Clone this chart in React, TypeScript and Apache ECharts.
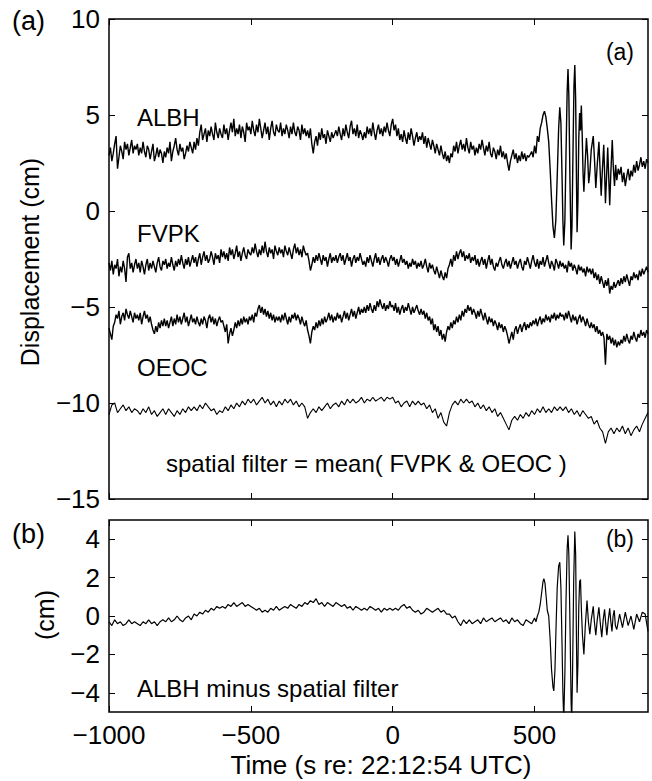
import React, { useEffect, useRef } from "react";
import * as echarts from "echarts";

const T0 = -1000;
const FINE = 5; // s, sampling of the three station records
const COARSE = 10; // s, sampling of the filter and residual
const X_MIN = -1000;
const X_MAX = 900;
const xTicks = [-1000, -500, 0, 500];
const yTicksA = [-15, -10, -5, 0, 5, 10];
const yTicksB = [-4, -2, 0, 2, 4];

// ALBH, 5 s samples from -1000 to 480 s
const albhPre = [
  2.9, 3.3, 2.6, 3.0, 3.5, 3.9, 2.2, 2.8, 3.4, 3.1, 2.7, 3.6, 3.2, 3.5, 2.9, 3.3, 3.7, 3.0, 3.4, 3.2,
  3.5, 2.9, 3.3, 3.0, 3.6, 3.1, 2.8, 3.4, 3.2, 2.7, 3.1, 3.5, 2.6, 2.9, 3.3, 2.8, 3.2, 3.0, 2.5, 3.1,
  2.8, 3.3, 3.0, 3.6, 2.6, 3.1, 3.4, 3.8, 3.2, 2.9, 3.5, 3.1, 3.3, 2.7, 3.0, 3.4, 3.1, 3.6, 3.3, 3.0,
  3.6, 3.2, 3.8, 3.4, 4.1, 4.5, 3.7, 4.0, 4.3, 3.6, 4.2, 3.9, 4.4, 4.0, 3.7, 4.6, 4.1, 3.8, 4.3, 4.0,
  3.8, 4.5, 4.0, 4.3, 3.7, 4.2, 4.6, 4.1, 4.8, 3.9, 4.3, 4.0, 4.5, 3.8, 4.4, 4.1, 3.6, 4.6, 4.2, 4.4,
  4.0, 4.7, 4.2, 3.9, 4.5, 4.1, 4.8, 4.3, 3.8, 4.2, 4.6, 4.0, 4.4, 3.7, 4.3, 4.7, 4.1, 3.9, 4.5, 4.2,
  4.1, 4.6, 3.9, 4.3, 4.0, 4.5, 4.2, 3.8, 4.4, 4.0, 4.6, 4.1, 3.9, 4.4, 4.2, 3.7, 4.5, 4.0, 4.3, 3.9,
  4.2, 3.8, 4.3, 3.5, 3.0, 3.6, 3.9, 3.4, 4.1, 3.7, 4.3, 3.8, 4.0, 3.5, 4.2, 3.9, 3.6, 4.1, 3.8, 4.0,
  4.2, 3.9, 4.4, 4.0, 3.7, 4.3, 3.9, 4.5, 4.1, 3.8, 4.4, 4.7, 4.0, 4.3, 3.9, 4.5, 3.8, 4.2, 4.0, 3.7,
  4.1, 3.8, 4.4, 4.0, 4.3, 3.9, 4.6, 4.1, 3.7, 4.2, 4.5, 4.0, 4.3, 3.9, 4.4, 4.1, 4.6, 4.2, 3.9, 4.5,
  4.8, 4.2, 4.5, 3.9, 4.3, 3.7, 4.0, 3.6, 4.2, 3.8, 3.5, 4.1, 3.7, 4.3, 3.9, 3.4, 3.8, 4.1, 3.6, 3.9,
  3.7, 4.1, 3.5, 3.9, 3.3, 3.8, 3.5, 3.2, 3.7, 3.4, 3.0, 3.5, 3.2, 2.9, 3.4, 3.0, 2.7, 3.1, 2.6, 2.9,
  2.5, 3.0, 2.8, 3.4, 3.1, 3.6, 3.0, 3.4, 3.7, 3.2, 3.5, 3.1, 3.8, 3.3, 3.0, 3.6, 3.2, 3.4, 2.9, 3.3,
  3.0, 3.5, 3.2, 3.7, 3.3, 2.9, 3.4, 3.1, 3.6, 3.0, 2.8, 3.3, 3.1, 2.7, 3.2, 2.9, 3.4, 2.8, 3.1, 2.7,
  3.0, 2.5, 2.1, 2.6, 2.9, 3.2, 2.7, 3.0, 2.5, 2.9, 2.6, 3.1, 2.7, 3.0, 2.6, 2.9, 2.8,
];
// ALBH surface-wave segment [time s, cm]
const albhWave: [number, number][] = [
  [490, 3.1], [495, 2.8], [500, 3.4], [505, 3.0], [510, 3.9], [515, 3.6], [520, 4.3], [525, 4.6],
  [530, 5.0], [535, 5.2], [540, 4.9], [545, 4.3], [550, 3.6], [555, 2.2], [560, 0.6],
  [565, -0.8], [570, -1.4], [575, -0.5], [580, 1.8], [585, 4.3], [589, 5.4], [593, 4.6],
  [597, 1.8], [600, -0.5], [603, -1.8], [607, -0.5], [611, 3.0], [615, 6.2], [618, 7.4],
  [621, 6.0], [625, 1.5], [629, -2.0], [632, -0.8], [636, 3.5], [639, 6.5], [642, 7.6],
  [645, 5.8], [648, 1.5], [650, -1.1], [653, 0.5], [656, 3.8], [659, 5.1], [662, 4.2],
  [665, 5.5], [668, 4.0], [671, 2.0], [674, 1.0], [678, 2.3], [683, 3.8], [687, 2.9],
  [691, 1.45], [695, 2.0], [700, 3.2], [707, 3.9], [711, 2.8], [716, 1.2], [721, 2.4],
  [727, 3.6], [731, 2.2], [735, 0.8], [739, 2.1], [744, 3.45], [747, 2.0], [750, 0.4],
  [754, 1.8], [758, 3.3], [761, 2.0], [765, 0.3], [769, 2.0], [774, 3.7], [778, 2.2],
  [782, 1.3], [786, 2.4], [790, 1.6], [795, 2.2],
];
// ALBH, 5 s samples from 800 to 900 s
const albhPost = [
  1.9, 2.3, 1.5, 2.0, 1.3, 1.8, 2.2, 1.6, 2.1, 1.8, 2.4, 2.0, 2.6, 2.1, 2.4, 2.8, 2.3, 2.6, 2.2, 2.7, 2.5,
];

// FVPK, 5 s samples from -1000 to 900 s
const fvpk = [
  -2.7, -3.1, -2.6, -3.3, -2.8, -3.0, -2.5, -3.4, -2.9, -3.2, -2.6, -3.0, -3.7, -2.4, -2.2, -3.0, -2.7, -3.2, -2.8, -2.5,
  -3.0, -2.7, -3.2, -2.6, -2.9, -3.3, -2.8, -2.5, -3.1, -2.7, -3.0, -2.6, -2.9, -3.2, -2.7, -2.4, -2.9, -3.1, -2.6, -2.8,
  -2.5, -3.0, -2.7, -2.9, -2.4, -2.8, -3.1, -2.6, -2.9, -2.5, -2.8, -2.3, -2.7, -3.0, -2.5, -2.8, -2.4, -2.9, -2.6, -2.3,
  -2.7, -2.4, -2.9, -2.5, -2.2, -2.8, -2.4, -2.1, -2.6, -2.3, -2.7, -2.5, -2.1, -2.4, -2.8, -2.2, -2.5, -2.3, -2.7, -2.0,
  -2.4, -2.1, -2.5, -2.2, -2.6, -1.9, -2.3, -2.0, -2.5, -2.2, -1.8, -2.4, -2.1, -2.6, -2.2, -1.9, -2.3, -2.5, -2.0, -2.2,
  -2.3, -1.9, -2.2, -1.7, -2.1, -2.4, -2.0, -2.3, -1.8, -2.2, -1.6, -2.1, -2.4, -1.9, -2.2, -2.0, -2.5, -1.8, -2.1, -2.3,
  -1.9, -2.2, -2.0, -2.4, -1.8, -2.1, -2.3, -1.9, -2.2, -2.5, -2.0, -1.7, -2.2, -1.9, -2.3, -2.0, -2.4, -1.8, -2.1, -2.3,
  -2.2, -2.6, -3.1, -2.8, -2.4, -2.7, -2.3, -2.6, -2.2, -2.5, -2.8, -2.3, -2.6, -2.4, -2.9, -2.5, -2.2, -2.7, -2.4, -2.6,
  -2.3, -2.7, -2.4, -2.2, -2.6, -2.3, -2.8, -2.5, -2.2, -2.6, -2.4, -2.9, -2.5, -2.3, -2.7, -2.4, -2.6, -2.2, -2.5, -2.8,
  -2.6, -2.9, -2.4, -2.7, -2.3, -2.6, -2.9, -2.5, -2.2, -2.7, -2.4, -2.8, -2.5, -2.3, -2.7, -2.4, -2.6, -2.9, -2.5, -2.3,
  -2.6, -2.4, -2.8, -2.5, -2.9, -2.6, -2.3, -2.7, -2.5, -2.8, -2.6, -3.0, -2.7, -2.9, -2.5, -2.8, -2.6, -3.0, -2.7, -2.9,
  -2.6, -3.0, -2.8, -2.5, -2.9, -3.2, -2.7, -3.0, -2.8, -3.1, -3.3, -2.9, -3.2, -3.5, -3.1, -3.4, -3.6, -3.2, -3.5, -3.0,
  -2.8, -2.5, -2.9, -2.3, -2.6, -2.1, -2.5, -2.2, -2.0, -2.4, -2.1, -2.6, -2.3, -2.5, -2.2, -2.7, -2.4, -2.6, -2.3, -2.8,
  -2.5, -2.9, -2.6, -2.4, -2.8, -2.5, -3.0, -2.6, -2.3, -2.8, -2.5, -2.9, -3.1, -2.7, -2.9, -2.6, -2.4, -2.8, -3.0, -2.7,
  -2.5, -2.9, -2.6, -3.0, -2.7, -2.4, -2.8, -2.6, -3.0, -2.7, -2.5, -2.9, -3.1, -2.6, -2.8, -2.4, -2.7, -3.0, -2.6, -2.3,
  -2.7, -2.9, -2.5, -3.0, -2.6, -2.8, -2.4, -2.9, -2.6, -2.3, -2.7, -3.0, -2.6, -2.8, -3.1, -2.5, -2.7, -3.0, -2.6, -2.9,
  -2.7, -3.0, -2.8, -3.2, -2.6, -2.9, -2.7, -3.1, -2.8, -3.0, -3.3, -2.8, -3.1, -2.9, -3.2, -3.0, -3.4, -2.9, -3.2, -3.0,
  -3.3, -3.0, -3.5, -3.2, -3.6, -3.3, -3.8, -3.4, -3.7, -4.0, -3.6, -3.9, -3.5, -4.3, -3.9, -4.1, -3.7, -4.0, -3.8, -3.6,
  -3.9, -3.5, -3.8, -3.4, -3.7, -3.3, -3.6, -3.9, -3.4, -3.6, -3.2, -3.5, -3.3, -3.6, -3.1, -3.4, -3.0, -3.3, -3.1, -2.9,
  -3.2,
];

// OEOC, 5 s samples from -1000 to 900 s
const oeoc = [
  -6.1, -6.4, -6.7, -6.0, -5.8, -5.4, -5.6, -5.2, -5.9, -5.5, -5.3, -5.7, -5.1, -5.4, -5.6, -5.2, -5.5, -5.8, -5.3, -5.6,
  -5.4, -5.7, -5.3, -5.9, -5.5, -5.2, -5.6, -5.4, -5.8, -5.5, -5.9, -6.2, -6.4, -6.0, -6.3, -5.8, -6.1, -5.7, -6.0, -5.6,
  -6.0, -5.7, -6.1, -5.8, -5.5, -6.0, -5.6, -5.9, -5.4, -5.8, -5.5, -5.9, -5.6, -5.3, -5.8, -5.5, -6.0, -5.7, -5.4, -5.8,
  -5.6, -5.9, -5.5, -5.8, -6.0, -5.6, -5.9, -5.5, -5.7, -6.1, -5.6, -5.4, -5.8, -5.5, -5.9, -5.6, -6.0, -5.7, -5.5, -5.8,
  -5.7, -6.0, -6.3, -5.9, -6.9, -6.4, -6.1, -6.5, -6.2, -5.8, -6.1, -5.7, -6.0, -5.6, -5.9, -5.5, -5.8, -5.6, -5.9, -5.5,
  -5.7, -5.4, -5.8, -5.3, -5.5, -5.1, -4.9, -5.3, -5.0, -5.4, -5.1, -5.5, -5.2, -5.6, -5.3, -5.7, -5.4, -5.8, -5.5, -5.7,
  -5.5, -5.8, -5.4, -5.7, -5.3, -5.6, -5.9, -5.5, -5.8, -5.4, -5.6, -5.3, -5.7, -5.4, -5.6, -5.9, -5.5, -5.8, -6.0, -5.7,
  -6.2, -6.5, -6.9, -6.3, -6.0, -6.2, -5.8, -6.1, -5.7, -6.0, -5.6, -5.9, -5.5, -5.8, -5.6, -5.3, -5.7, -5.4, -5.8, -5.5,
  -5.7, -5.3, -5.6, -5.4, -5.8, -5.5, -5.2, -5.6, -5.3, -5.7, -5.4, -5.1, -5.5, -5.2, -5.6, -5.3, -5.0, -5.4, -5.1, -5.3,
  -5.0, -5.3, -4.9, -5.2, -4.8, -5.1, -5.3, -4.9, -5.2, -4.7, -5.0, -4.6, -4.9, -5.1, -4.8, -5.2, -4.9, -5.1, -4.7, -5.0,
  -4.9, -5.2, -4.8, -5.3, -5.0, -5.4, -5.1, -4.9, -5.3, -5.0, -5.2, -4.8, -5.1, -5.4, -5.0, -5.3, -5.1, -4.9, -5.2, -5.4,
  -5.1, -5.4, -5.2, -5.6, -5.3, -5.7, -5.5, -5.9, -5.6, -6.2, -5.9, -6.3, -6.0, -6.5, -6.2, -6.7, -6.4, -6.8, -6.3, -6.0,
  -6.2, -5.8, -6.1, -5.7, -5.9, -5.5, -5.8, -5.4, -5.7, -5.2, -5.5, -5.1, -5.3, -4.9, -5.2, -5.0, -5.4, -5.1, -5.3, -5.6,
  -5.2, -5.5, -5.1, -5.4, -5.7, -5.3, -5.6, -5.9, -5.5, -5.8, -5.6, -6.0, -5.7, -5.9, -6.2, -5.8, -6.1, -5.9, -6.3, -6.0,
  -6.2, -6.5, -6.9, -6.6, -6.3, -6.7, -6.2, -6.0, -6.4, -6.1, -5.9, -6.3, -6.0, -5.8, -6.2, -5.9, -6.1, -5.8, -6.0, -5.7,
  -5.9, -5.6, -6.0, -5.7, -5.5, -5.9, -5.6, -5.8, -5.4, -5.7, -5.5, -5.8, -5.4, -5.6, -5.3, -5.7, -5.4, -5.6, -5.3, -5.5,
  -5.4, -5.7, -5.3, -5.6, -5.2, -5.5, -5.8, -5.4, -5.7, -5.5, -5.9, -5.6, -5.4, -5.8, -5.5, -5.7, -6.0, -5.6, -5.9, -6.1,
  -5.8, -6.1, -5.9, -6.3, -6.0, -6.4, -6.2, -6.5, -6.3, -6.6, -8.0, -6.4, -6.7, -6.5, -6.9, -6.6, -7.0, -6.7, -7.1, -6.8,
  -7.0, -6.7, -6.9, -6.5, -6.8, -6.4, -6.7, -6.9, -6.5, -6.7, -6.3, -6.6, -6.8, -6.4, -6.6, -6.2, -6.5, -6.3, -6.6, -6.2,
  -6.4,
];

// spatial filter (offset), 10 s samples from -1000 to 900 s
const spatialFilter = [
  -10.6, -10.1, -10.0, -10.5, -10.3, -10.1, -10.4, -10.2, -10.5, -10.3,
  -10.4, -10.6, -10.3, -10.5, -10.2, -10.6, -10.4, -10.7, -10.5, -10.3,
  -10.6, -10.3, -10.5, -10.7, -10.4, -10.6, -10.3, -10.5, -10.2, -10.4,
  -10.2, -10.4, -10.1, -10.3, -10.0, -10.2, -10.4, -10.3, -10.6, -10.4,
  -10.5, -10.2, -10.4, -10.1, -10.3, -10.0, -10.2, -9.9, -10.1, -9.8,
  -10.0, -9.8, -10.1, -9.9, -9.7, -10.0, -9.8, -10.1, -9.9, -10.2,
  -9.9, -10.1, -9.8, -10.0, -9.8, -10.1, -9.9, -10.2, -10.0, -10.2,
  -10.8, -10.5, -10.3, -10.5, -10.2, -10.4, -10.2, -10.0, -10.3, -10.1,
  -10.0, -10.2, -9.9, -10.1, -9.8, -10.0, -9.8, -10.0, -9.9, -9.7,
  -10.0, -9.8, -9.9, -9.7, -9.9, -9.8, -9.7, -9.9, -9.7, -9.8,
  -9.7, -10.0, -9.9, -10.2, -10.0, -9.9, -10.2, -9.9, -10.1, -9.9,
  -10.1, -10.0, -10.3, -10.1, -10.5, -10.3, -10.8, -10.5, -11.0, -11.2,
  -10.5, -10.1, -9.9, -10.1, -9.8, -10.0, -9.8, -10.0, -9.9, -10.2,
  -10.0, -10.3, -10.1, -10.4, -10.2, -10.5, -10.3, -10.7, -10.5, -10.8,
  -11.1, -11.4, -10.9, -10.7, -10.9, -10.6, -10.8, -10.5, -10.7, -10.4,
  -10.6, -10.3, -10.5, -10.2, -10.5, -10.3, -10.5, -10.2, -10.4, -10.2,
  -10.4, -10.2, -10.5, -10.3, -10.6, -10.4, -10.7, -10.4, -10.6, -10.8,
  -10.7, -11.1, -10.9, -11.3, -11.5, -12.1, -11.5, -11.3, -11.6, -11.3,
  -11.5, -11.2, -11.6, -11.3, -11.7, -11.4, -11.2, -11.5, -11.1, -10.8, -10.5,
];

// ALBH minus spatial filter, 10 s samples from -1000 to 480 s
const residPre = [
  -0.3, -0.5, -0.2, -0.4, -0.3, -0.5, -0.4, -0.2, -0.4, -0.3,
  -0.4, -0.5, -0.3, -0.4, -0.2, -0.4, -0.3, -0.5, -0.3, -0.2,
  -0.3, -0.1, -0.3, -0.2, 0.0, -0.2, -0.3, -0.1, 0.0, -0.2,
  0.1, 0.0, 0.2, 0.1, 0.3, 0.2, 0.4, 0.3, 0.5, 0.4,
  0.5, 0.4, 0.6, 0.5, 0.7, 0.5, 0.6, 0.7, 0.5, 0.6,
  0.5, 0.4, 0.3, 0.4, 0.2, 0.3, 0.2, 0.4, 0.3, 0.5,
  0.3, 0.4, 0.5, 0.4, 0.6, 0.5, 0.4, 0.6, 0.5, 0.7,
  0.6, 0.8, 0.7, 0.9, 0.6, 0.7, 0.5, 0.7, 0.6, 0.5,
  0.7, 0.6, 0.5, 0.6, 0.4, 0.5, 0.3, 0.5, 0.4, 0.3,
  0.4, 0.3, 0.5, 0.4, 0.3, 0.4, 0.2, 0.4, 0.3, 0.4,
  0.3, 0.4, 0.3, 0.5, 0.6, 0.4, 0.5, 0.3, 0.2, 0.3,
  0.1, 0.2, 0.4, 0.3, 0.2, 0.3, 0.4, 0.2, 0.3, 0.1,
  0.1, -0.1, 0.0, -0.3, -0.5, -0.2, -0.4, -0.2, -0.4, -0.3,
  -0.2, -0.4, -0.1, -0.3, -0.2, -0.1, -0.3, -0.2, -0.1, -0.3,
  -0.2, -0.4, -0.1, -0.3, -0.2, -0.4, -0.5, -0.2, -0.3,
];
const residWave: [number, number][] = [
  [490, -0.4], [500, -0.1], [505, -0.3], [510, 0.0], [515, 0.2], [520, 0.6], [525, 1.2],
  [530, 1.8], [533, 1.95], [537, 1.7], [541, 1.0], [545, 0.3], [550, 0.0], [555, -1.2],
  [560, -2.8], [565, -3.7], [568, -3.9], [572, -2.8], [576, -0.5], [580, 1.5], [585, 2.6],
  [589, 2.8], [593, 1.5], [597, -1.5], [600, -4.0], [603, -5.4], [607, -3.0], [611, 0.8],
  [615, 3.5], [618, 4.2], [621, 3.2], [625, -0.5], [629, -4.5], [631, -5.5], [634, -3.0],
  [638, 1.8], [642, 4.4], [645, 3.2], [648, -1.5], [650, -4.0], [653, -2.5], [656, 0.5],
  [659, 1.8], [662, 1.9], [665, 0.4], [669, -1.0], [674, -2.0], [679, -0.5], [685, 0.8],
  [690, -0.3], [695, -0.95], [700, -0.2], [707, 0.5], [711, -0.3], [716, -1.0], [721, -0.2],
  [727, 0.45], [732, -0.4], [737, -1.1], [742, -0.2], [747, 0.35], [751, -0.4], [755, -1.0],
  [760, -0.2], [765, 0.4], [769, -0.3], [773, -0.8], [777, 0.0], [781, 0.3], [785, -0.5],
  [790, -0.7],
];
const residPost = [0.1, -0.6, 0.2, -0.5, 0.0, -0.7, 0.1, -0.3, 0.2, 0.1, -0.8];

const FONT = '"Liberation Sans", Arial, Helvetica, sans-serif';
const minus = (v: number) => String(v).replace("-", "\u2212");

const seq = (start: number, step: number, vals: number[]) =>
  vals.map((v, i) => [start + i * step, v]);

export default function App() {
  const ref = useRef<HTMLDivElement>(null);

  useEffect(() => {
    if (!ref.current) return;
    const chart = echarts.init(ref.current, null, { renderer: "svg" });

    const albh = [...seq(T0, FINE, albhPre), ...albhWave, ...seq(800, FINE, albhPost)];
    const resid = [...seq(T0, COARSE, residPre), ...residWave, ...seq(800, COARSE, residPost)];

    const grids = [
      { left: 109, top: 19, width: 539, height: 480 },
      { left: 109, top: 520, width: 539, height: 192 },
    ].map((g) => ({
      ...g,
      show: true,
      borderColor: "#000",
      borderWidth: 1.5,
      backgroundColor: "transparent",
      containLabel: false,
    }));

    const tickStyle = { show: true, inside: true, length: 6, lineStyle: { color: "#000", width: 1 } };
    const labelStyle = { color: "#000", fontFamily: FONT, fontSize: 26 };

    const mkX = (gridIndex: number, position: "top" | "bottom", showLabel: boolean) => ({
      type: "value",
      gridIndex,
      position,
      min: X_MIN,
      max: X_MAX,
      axisLine: { show: false, onZero: false },
      splitLine: { show: false },
      axisTick: { ...tickStyle, customValues: xTicks },
      axisLabel: {
        show: showLabel,
        ...labelStyle,
        margin: 10,
        customValues: xTicks,
        formatter: minus,
      },
    });
    const mkY = (
      gridIndex: number,
      position: "left" | "right",
      showLabel: boolean,
      min: number,
      max: number,
      ticks: number[]
    ) => ({
      type: "value",
      gridIndex,
      position,
      min,
      max,
      axisLine: { show: false, onZero: false },
      splitLine: { show: false },
      axisTick: { ...tickStyle, customValues: ticks },
      axisLabel: {
        show: showLabel,
        ...labelStyle,
        margin: 9,
        customValues: ticks,
        formatter: minus,
      },
    });

    const lineSeries = (
      name: string,
      data: number[][],
      xi: number,
      yi: number,
      width: number
    ) => ({
      name,
      type: "line",
      xAxisIndex: xi,
      yAxisIndex: yi,
      data,
      showSymbol: false,
      symbol: "none",
      clip: true,
      lineStyle: { color: "#000", width },
      z: 1,
    });

    const text = (
      s: string,
      x: number,
      y: number,
      size: number,
      align: string = "left",
      rotation = 0
    ) => ({
      type: "text",
      x,
      y,
      rotation,
      z: 10,
      style: {
        text: s,
        fill: "#000",
        font: `${size}px ${FONT}`,
        textAlign: align,
        textVerticalAlign: "middle",
      },
    });

    chart.setOption({
      animation: false,
      backgroundColor: "#fff",
      grid: grids,
      xAxis: [
        mkX(0, "bottom", false),
        mkX(0, "top", false),
        mkX(1, "bottom", true),
        mkX(1, "top", false),
      ],
      yAxis: [
        mkY(0, "left", true, -15, 10, yTicksA),
        mkY(0, "right", false, -15, 10, yTicksA),
        mkY(1, "left", true, -5, 5, yTicksB),
        mkY(1, "right", false, -5, 5, yTicksB),
      ],
      series: [
        lineSeries("ALBH", albh, 0, 0, 1.4),
        lineSeries("FVPK", seq(T0, FINE, fvpk), 0, 0, 1.4),
        lineSeries("OEOC", seq(T0, FINE, oeoc), 0, 0, 1.4),
        lineSeries("spatial filter", seq(T0, COARSE, spatialFilter), 0, 0, 1.1),
        lineSeries("ALBH minus spatial filter", resid, 2, 2, 1.2),
      ],
      graphic: [
        text("(a)", 12, 21, 27),
        text("(b)", 12, 534, 27),
        text("(a)", 634, 52, 23, "right"),
        text("(b)", 634, 539, 23, "right"),
        text("ALBH", 137, 117, 24),
        text("FVPK", 137, 233, 24),
        text("OEOC", 137, 367, 24),
        text("spatial filter = mean( FVPK & OEOC )", 166, 463, 24),
        text("ALBH minus spatial filter", 137, 688, 24),
        text("Displacement (cm)", 30, 262, 25, "center", Math.PI / 2),
        text("(cm)", 45, 615, 25, "center", Math.PI / 2),
        text("Time (s re: 22:12:54 UTC)", 381, 765, 26, "center"),
      ],
    });

    return () => chart.dispose();
  }, []);

  return (
    <div
      ref={ref}
      style={{ position: "fixed", left: 0, top: 0, width: 652, height: 781, background: "#fff" }}
    />
  );
}
